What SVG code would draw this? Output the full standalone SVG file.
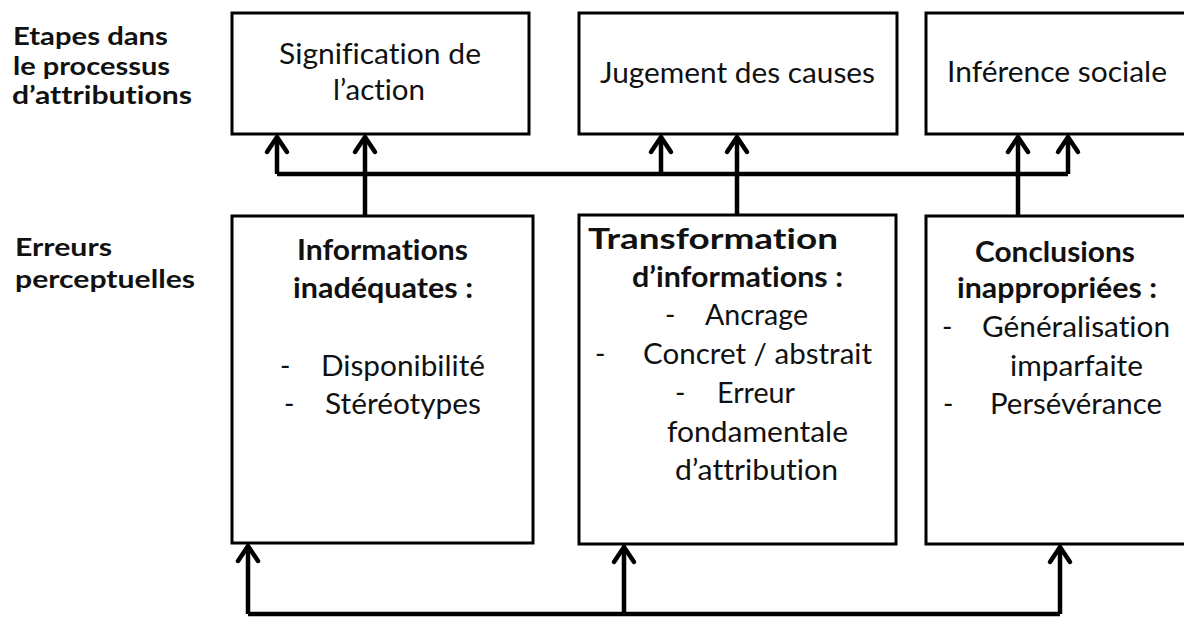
<svg xmlns="http://www.w3.org/2000/svg" width="1184" height="617" viewBox="0 0 1184 617">
<style>
text{font-variant-ligatures:none;font-feature-settings:"liga" 0,"clig" 0}
.box{fill:#fff;stroke:#000;stroke-width:3}
.t{font-family:Lato,"Liberation Sans",sans-serif;font-size:28px;fill:#111}
.b{font-weight:bold}
.lbl{font-family:Lato,"Liberation Sans",sans-serif;font-size:25px;font-weight:bold;fill:#111}
.c{stroke:#000;stroke-width:4.5;fill:none}
</style>
<defs>
<marker id="ah" markerUnits="userSpaceOnUse" markerWidth="40" markerHeight="40" viewBox="-20 -20 40 40" refX="0" refY="0" orient="auto" overflow="visible">
<path d="M-15,-10 L0,0 L-15,10" fill="none" stroke="#000" stroke-width="4.5" stroke-linecap="round"/>
</marker>
</defs>
<rect width="1184" height="617" fill="#fff"/>

<g id="labels">
<text class="lbl" x="13" y="45" textLength="155" lengthAdjust="spacingAndGlyphs">Etapes dans</text>
<text class="lbl" x="13" y="75" textLength="157" lengthAdjust="spacingAndGlyphs">le processus</text>
<text class="lbl" x="12" y="104" textLength="180" lengthAdjust="spacingAndGlyphs">d’attributions</text>
<text class="lbl" x="15" y="256" textLength="97" lengthAdjust="spacingAndGlyphs">Erreurs</text>
<text class="lbl" x="15" y="288" textLength="180" lengthAdjust="spacingAndGlyphs">perceptuelles</text>
</g>

<g id="connectors">
<path class="c" d="M277,174 H1068"/>
<path class="c" d="M277,174 V137" marker-end="url(#ah)"/>
<path class="c" d="M661,174 V137" marker-end="url(#ah)"/>
<path class="c" d="M1068,174 V137" marker-end="url(#ah)"/>
<path class="c" d="M365,216 V137" marker-end="url(#ah)"/>
<path class="c" d="M737,215 V137" marker-end="url(#ah)"/>
<path class="c" d="M1018,215 V137" marker-end="url(#ah)"/>
<path class="c" d="M248,614 H1060"/>
<path class="c" d="M248,614 V546" marker-end="url(#ah)"/>
<path class="c" d="M624,614 V547" marker-end="url(#ah)"/>
<path class="c" d="M1060,614 V547" marker-end="url(#ah)"/>
</g>

<g id="n-signification">
<rect class="box" x="232" y="13" width="297" height="121"/>
<text class="t" x="279" y="64" textLength="202" lengthAdjust="spacingAndGlyphs">Signification de</text>
<text class="t" x="333" y="100" textLength="92" lengthAdjust="spacingAndGlyphs">l’action</text>
</g>

<g id="n-jugement">
<rect class="box" x="579" y="13" width="318" height="121"/>
<text class="t" x="600" y="83" textLength="275" lengthAdjust="spacingAndGlyphs">Jugement des causes</text>
</g>

<g id="n-inference">
<rect class="box" x="926" y="13" width="270" height="121"/>
<text class="t" x="947" y="82" textLength="220" lengthAdjust="spacingAndGlyphs">Inférence sociale</text>
</g>

<g id="n-informations">
<rect class="box" x="232" y="216" width="301" height="327"/>
<text class="t b" x="297" y="260" textLength="171" lengthAdjust="spacingAndGlyphs">Informations</text>
<text class="t b" x="293" y="298" textLength="180" lengthAdjust="spacingAndGlyphs">inadéquates :</text>
<text class="t" x="280" y="376">-</text>
<text class="t" x="321" y="376" textLength="164" lengthAdjust="spacingAndGlyphs">Disponibilité</text>
<text class="t" x="284" y="414">-</text>
<text class="t" x="325" y="414" textLength="156" lengthAdjust="spacingAndGlyphs">Stéréotypes</text>
</g>

<g id="n-transformation">
<rect class="box" x="579" y="215" width="317" height="329"/>
<text class="t b" x="588" y="249" textLength="250" lengthAdjust="spacingAndGlyphs">Transformation</text>
<text class="t b" x="632" y="287" textLength="211" lengthAdjust="spacingAndGlyphs">d’informations :</text>
<text class="t" x="665" y="325">-</text>
<text class="t" x="705" y="325" textLength="103" lengthAdjust="spacingAndGlyphs">Ancrage</text>
<text class="t" x="595" y="364">-</text>
<text class="t" x="643" y="364" textLength="229" lengthAdjust="spacingAndGlyphs">Concret / abstrait</text>
<text class="t" x="675" y="403">-</text>
<text class="t" x="717" y="403" textLength="78" lengthAdjust="spacingAndGlyphs">Erreur</text>
<text class="t" x="667" y="442" textLength="181" lengthAdjust="spacingAndGlyphs">fondamentale</text>
<text class="t" x="675" y="480" textLength="163" lengthAdjust="spacingAndGlyphs">d’attribution</text>
</g>

<g id="n-conclusions">
<rect class="box" x="926" y="216" width="270" height="328"/>
<text class="t b" x="975" y="262" textLength="160" lengthAdjust="spacingAndGlyphs">Conclusions</text>
<text class="t b" x="957" y="298" textLength="200" lengthAdjust="spacingAndGlyphs">inappropriées :</text>
<text class="t" x="942" y="337">-</text>
<text class="t" x="982" y="337" textLength="188" lengthAdjust="spacingAndGlyphs">Généralisation</text>
<text class="t" x="1010" y="376" textLength="133" lengthAdjust="spacingAndGlyphs">imparfaite</text>
<text class="t" x="943" y="414">-</text>
<text class="t" x="990" y="414" textLength="172" lengthAdjust="spacingAndGlyphs">Persévérance</text>
</g>
</svg>
